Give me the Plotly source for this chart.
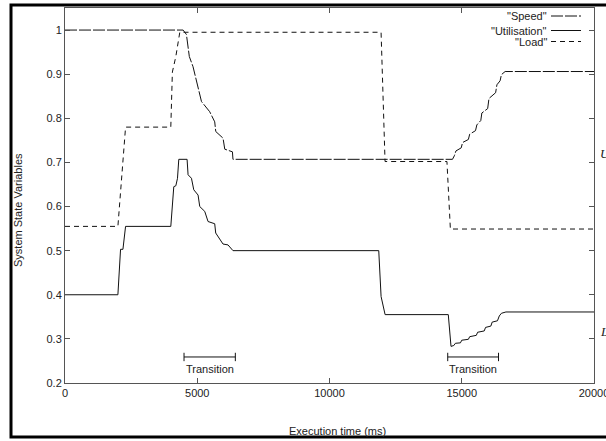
import plotly.graph_objects as go

# ---- data ----
speed_x = [0, 4465, 4590, 4700, 4840, 4970, 5160, 5470, 5660, 5700, 5975, 6040, 6330, 6350,
           14650, 14720, 14780, 14980, 15030, 15250, 15300, 15520, 15570, 15720, 15760, 15980,
           16030, 16280, 16330, 16450, 16500, 16640, 20000]
speed_y = [1.0, 1.0, 0.99, 0.94, 0.917, 0.887, 0.838, 0.815, 0.792, 0.77, 0.755, 0.73, 0.724, 0.707,
           0.707, 0.715, 0.726, 0.733, 0.745, 0.752, 0.764, 0.772, 0.785, 0.795, 0.812, 0.822,
           0.845, 0.858, 0.876, 0.885, 0.899, 0.906, 0.906]

util_x = [0, 2000, 2100, 2190, 2290, 4000, 4113, 4190, 4253, 4302, 4616, 4653, 4781, 4868, 5031,
          5094, 5283, 5408, 5660, 5698, 5974, 6163, 6351, 11862, 11950, 12102, 14491, 14594,
          14700, 14760, 14950, 15000, 15250, 15300, 15550, 15600, 15850, 15900, 16100, 16150,
          16350, 16420, 16500, 16670, 20000]
util_y = [0.4, 0.4, 0.503, 0.503, 0.555, 0.555, 0.645, 0.647, 0.664, 0.707, 0.707, 0.672, 0.664,
          0.638, 0.626, 0.6, 0.589, 0.566, 0.561, 0.54, 0.515, 0.513, 0.5, 0.5, 0.396, 0.355,
          0.355, 0.283, 0.285, 0.290, 0.291, 0.297, 0.299, 0.305, 0.308, 0.315, 0.318, 0.326,
          0.329, 0.338, 0.341, 0.352, 0.358, 0.361, 0.361]

load_x = [0, 2000, 2290, 4000, 4060, 4190, 4340, 11950, 12100, 14440, 14570, 20000]
load_y = [0.555, 0.555, 0.78, 0.78, 0.905, 0.94, 0.995, 0.995, 0.702, 0.702, 0.549, 0.549]

transition_ranges = [(4500, 6440), (14470, 16390)]
transition_y = 0.259
transition_label_y = 0.232

x_ticks = [0, 5000, 10000, 15000, 20000]
y_ticks = [0.2, 0.3, 0.4, 0.5, 0.6, 0.7, 0.8, 0.9, 1]
bound_labels = [("U", 0.72), ("L", 0.317)]

legend_names = ['"Speed"', '"Utilisation"', '"Load"']
legend_dash = ["12px,2px", "solid", "5px,4px"]

FONT = "Liberation Sans, Arial, sans-serif"
LC = "#111111"
AX = "#555555"

fig = go.Figure()
fig.add_trace(go.Scatter(x=speed_x, y=speed_y, mode="lines",
                         line=dict(color=LC, width=1, dash=legend_dash[0]), showlegend=False))
fig.add_trace(go.Scatter(x=util_x, y=util_y, mode="lines",
                         line=dict(color=LC, width=1, dash=legend_dash[1]), showlegend=False))
fig.add_trace(go.Scatter(x=load_x, y=load_y, mode="lines",
                         line=dict(color=LC, width=1, dash=legend_dash[2]), showlegend=False))

for (a, b) in transition_ranges:
    fig.add_trace(go.Scatter(x=[a, b], y=[transition_y, transition_y], mode="lines+markers",
                             line=dict(color=LC, width=1),
                             marker=dict(symbol="line-ns", size=6, line=dict(width=1, color=LC)),
                             showlegend=False))
    fig.add_annotation(x=(a + b) / 2, y=transition_label_y, text="Transition", showarrow=False,
                       font=dict(family=FONT, size=11, color="#222"), xanchor="center", yanchor="middle")

for t, yv in bound_labels:
    fig.add_annotation(x=1.0076, xref="paper", y=yv, yref="y", text="<i>%s</i>" % t, showarrow=False,
                       font=dict(family="Liberation Serif, serif", size=13, color="#222"),
                       xanchor="left", yanchor="middle")

# gnuplot-style key: text then sample
W, H = 529.0, 375.0
def px(x):
    return (x - 65) / W
def py(y):
    return (383 - y) / H

rows = [16, 30.5, 41.5]
for name, dash, r in zip(legend_names, legend_dash, rows):
    fig.add_annotation(x=px(549), y=py(r), xref="paper", yref="paper", text=name, showarrow=False,
                       font=dict(family=FONT, size=11, color="#222"), xanchor="right", yanchor="middle")
    fig.add_shape(type="line", xref="paper", yref="paper", x0=px(551), x1=px(581), y0=py(r), y1=py(r),
                  line=dict(color=LC, width=1, dash=dash))

# outer frame
fig.add_shape(type="rect", xref="paper", yref="paper", x0=px(11), x1=px(616), y0=py(437), y1=py(5),
              line=dict(color="black", width=3), layer="above")

# axis titles
fig.add_annotation(x=px(337), y=py(431), xref="paper", yref="paper", text="Execution time (ms)",
                   showarrow=False, font=dict(family=FONT, size=11, color="#222"),
                   xanchor="center", yanchor="middle")
fig.add_annotation(x=px(18), y=py(210), xref="paper", yref="paper", text="System State Variables",
                   showarrow=False, textangle=-90, font=dict(family=FONT, size=11, color="#222"),
                   xanchor="center", yanchor="middle")

fig.update_layout(
    width=606, height=441,
    margin=dict(l=65, r=12, t=8, b=58, autoexpand=False),
    paper_bgcolor="white", plot_bgcolor="white",
    font=dict(family=FONT, size=11, color="#222"),
    xaxis=dict(range=[0, 20000], tickvals=x_ticks, ticktext=[str(v) for v in x_ticks],
               ticks="inside", ticklen=5, tickcolor=AX, showline=True, linecolor=AX, linewidth=1,
               mirror="ticks", showgrid=False, zeroline=False, tickfont=dict(size=11),
               ticklabeloverflow="allow", automargin=False),
    yaxis=dict(range=[0.2, 1.05], tickvals=y_ticks, ticktext=[("%g" % v) for v in y_ticks],
               ticks="inside", ticklen=5, tickcolor=AX, showline=True, linecolor=AX, linewidth=1,
               mirror="ticks", showgrid=False, zeroline=False, tickfont=dict(size=11),
               automargin=False),
)

fig.write_html("out.html", config={"displayModeBar": False},
               post_script="document.body.style.margin='0';document.body.style.overflow='hidden';")
